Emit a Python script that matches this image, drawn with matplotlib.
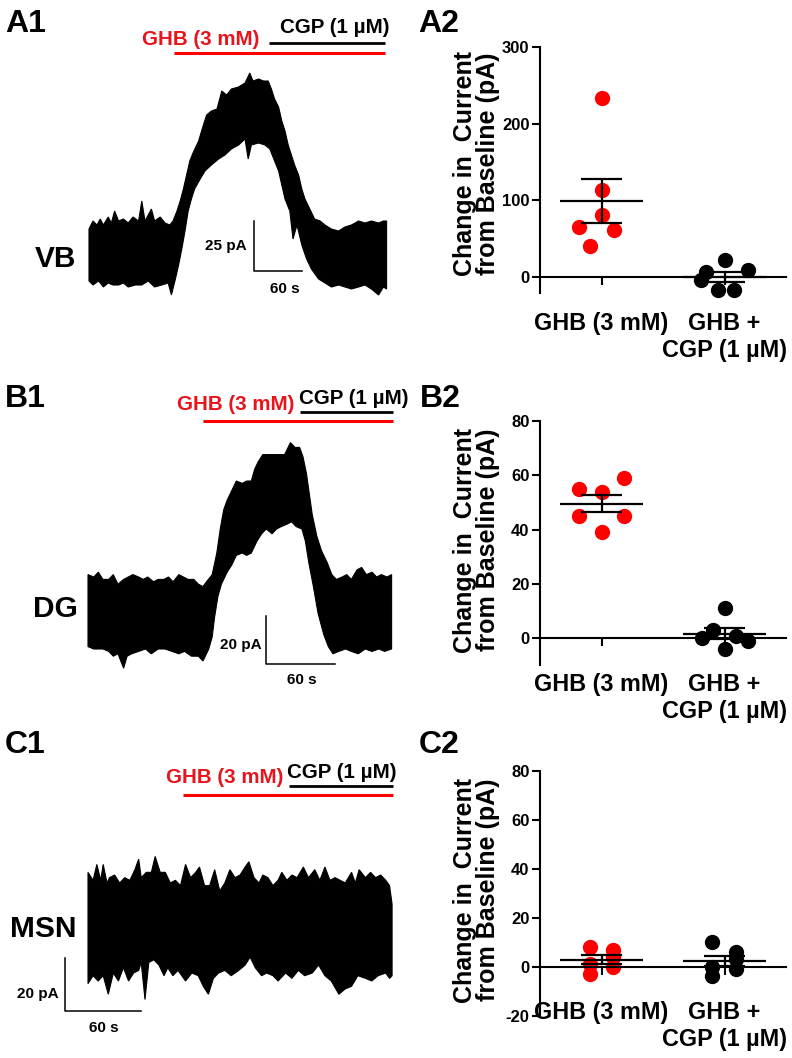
import numpy as np
import matplotlib
matplotlib.use('Agg')
import matplotlib.pyplot as plt

plt.rcParams['font.family'] = ['Liberation Sans', 'DejaVu Sans']
plt.rcParams['font.weight'] = 'bold'
plt.rcParams['axes.labelweight'] = 'bold'
plt.rcParams['axes.unicode_minus'] = False

a1_up_t = [0, 5, 10, 14, 18, 24, 28, 32, 37, 43, 49, 55, 62, 66, 70, 78, 82, 89, 95, 101,
           105, 110, 114, 118, 122, 126, 130, 137, 143, 147, 153, 160, 166, 172, 178, 187, 195, 201, 205, 212,
           218, 224, 228, 232, 237, 241, 245, 249, 253, 257, 262, 266, 270, 276, 282, 289, 295, 303, 312, 320,
           328, 337, 345, 353, 362, 368, 372]
a1_up_i = [14, 18, 16, 19, 16, 20, 17, 23, 18, 19, 17, 20, 18, 28, 18, 24, 18, 20, 17, 16,
           18, 23, 28, 34, 41, 48, 52, 58, 66, 71, 73, 74, 83, 81, 84, 85, 87, 92, 88, 89,
           88, 88, 84, 79, 75, 68, 63, 56, 51, 46, 41, 34, 29, 24, 19, 18, 16, 14, 13, 15,
           16, 18, 17, 18, 17, 18, 18]
a1_lo_t = [0, 5, 12, 18, 24, 30, 37, 43, 49, 58, 66, 74, 82, 91, 99, 103, 108, 112, 116, 120,
           124, 128, 132, 139, 145, 153, 162, 170, 178, 187, 195, 199, 203, 212, 220, 226, 232, 237, 241, 245,
           251, 255, 260, 266, 272, 278, 287, 295, 303, 312, 320, 328, 337, 345, 353, 362, 368, 372]
a1_lo_i = [-12, -14, -12, -15, -13, -14, -14, -13, -15, -14, -14, -12, -15, -14, -13, -19, -11, -4, 4, 13,
           23, 29, 34, 39, 43, 46, 49, 51, 54, 56, 59, 49, 56, 57, 56, 54, 48, 43, 36, 29,
           23, 9, 16, 6, -1, -6, -11, -13, -15, -14, -15, -16, -15, -14, -16, -19, -15, -16]

b1_up_t = [0, 5, 9, 13, 18, 22, 26, 31, 35, 39, 44, 48, 52, 57, 61, 66, 70, 74, 79, 83,
           87, 92, 96, 100, 103, 108, 112, 115, 118, 121, 125, 129, 134, 138, 142, 145, 148, 152, 157, 161,
           166, 171, 176, 180, 184, 187, 190, 195, 199, 203, 208, 212, 216, 221, 225, 229, 234, 238, 242, 247,
           251, 255, 260, 264]
b1_up_i = [16, 15, 17, 14, 14, 16, 12, 14, 15, 16, 15, 14, 15, 13, 14, 14, 15, 13, 16, 15,
           14, 14, 12, 11, 13, 16, 25, 35, 43, 47, 51, 55, 54, 55, 55, 60, 63, 66, 66, 66,
           66, 66, 71, 69, 69, 65, 58, 41, 32, 26, 21, 16, 14, 15, 16, 14, 18, 19, 16, 17,
           15, 16, 15, 16]
b1_lo_t = [0, 5, 9, 13, 18, 22, 26, 31, 34, 38, 44, 50, 55, 61, 67, 73, 79, 84, 90, 96,
           100, 105, 108, 110, 113, 116, 121, 125, 129, 134, 138, 142, 147, 151, 155, 160, 164, 168, 173, 177,
           181, 186, 189, 192, 196, 200, 205, 209, 213, 218, 224, 229, 235, 241, 247, 253, 258, 264]
b1_lo_i = [-14, -15, -15, -15, -16, -18, -17, -23, -18, -17, -16, -15, -17, -15, -15, -16, -17, -16, -18, -18,
           -20, -15, -10, -2, 7, 12, 17, 20, 24, 25, 24, 25, 30, 33, 35, 33, 35, 36, 37, 38,
           36, 35, 30, 21, 11, 0, -9, -14, -17, -16, -15, -16, -17, -15, -16, -15, -16, -15]

c1_up_t = [0, 4, 7, 10, 12, 15, 17, 21, 25, 29, 33, 37, 40, 42, 46, 50, 53, 57, 61, 65,
           69, 73, 77, 81, 85, 88, 92, 96, 100, 104, 108, 112, 116, 120, 124, 127, 131, 135, 138, 142,
           146, 150, 153, 157, 161, 165, 170, 174, 179, 183, 187, 191, 195, 199, 203, 208, 211, 214, 219, 223,
           227, 231, 235, 238, 240]
c1_up_i = [21, 18, 24, 18, 24, 17, 19, 20, 17, 19, 18, 22, 26, 19, 21, 21, 27, 21, 21, 17,
           18, 16, 24, 19, 21, 23, 16, 16, 22, 14, 17, 22, 19, 20, 23, 25, 19, 17, 20, 19,
           16, 18, 21, 18, 20, 19, 23, 19, 22, 18, 23, 18, 19, 18, 17, 21, 17, 22, 19, 21,
           19, 20, 18, 16, 9]
c1_lo_t = [0, 4, 8, 12, 16, 20, 24, 28, 32, 36, 40, 42, 45, 48, 52, 56, 60, 63, 67, 71,
           77, 82, 87, 91, 95, 99, 103, 108, 113, 119, 124, 128, 132, 137, 141, 146, 150, 156, 161, 166,
           171, 177, 182, 187, 192, 198, 203, 208, 213, 219, 224, 229, 235, 238, 240]
c1_lo_i = [-21, -18, -20, -18, -25, -17, -20, -15, -20, -17, -16, -13, -27, -13, -12, -14, -18, -15, -18, -16,
           -20, -17, -18, -22, -25, -19, -17, -16, -18, -16, -14, -11, -15, -18, -17, -18, -20, -17, -19, -16,
           -18, -17, -14, -18, -20, -25, -23, -22, -18, -19, -20, -18, -17, -19, -18]

# drug application windows (s)
a1_ghb, a1_cgp = (106, 370), (225, 370)
b1_ghb, b1_cgp = (100, 265), (184, 265)
c1_ghb, c1_cgp = (75, 241), (159, 241)
scale_s = 60
a1_scale_pa, b1_scale_pa, c1_scale_pa = 25, 20, 20

# ---- scatter panels: change in current (pA) ----
groups = ['GHB (3 mM)', 'GHB +\nCGP (1 µM)']
a2_ghb = [233, 113, 81, 66, 61, 41]
a2_cgp = [23, 7, 10, -4, -16, -16]
b2_ghb = [59, 55, 54, 45, 45, 39]
b2_cgp = [11, 3, 0, 1, -1, -4]
c2_ghb = [8, 1, -3, 7, 4, 0]
c2_cgp = [10, 0, -4, 6, 3, -1]
# horizontal scatter offsets of the dots
a2_ghb_dx = [0, 0, 0, -0.18, 0.1, -0.09]
a2_cgp_dx = [0, -0.15, 0.19, -0.19, -0.05, 0.08]
b2_ghb_dx = [0.18, -0.18, 0, -0.18, 0.18, 0]
b2_cgp_dx = [0, -0.09, -0.18, 0.09, 0.19, 0]
c2_ghb_dx = [-0.09, -0.09, -0.09, 0.09, 0.09, 0.09]
c2_cgp_dx = [-0.1, -0.1, -0.1, 0.09, 0.09, 0.09]

RED = '#ff0000'
TXT_RED = '#e8141b'
W, H = 792, 1058
fig = plt.figure(figsize=(W / 100, H / 100), dpi=100)


def box(left, top, right, bottom):
    return [left / W, 1 - bottom / H, (right - left) / W, (bottom - top) / H]


def ftext(x, y, s, **kw):
    fig.text(x / W, 1 - y / H, s, va='baseline', **kw)


def trace_panel(top, bottom, t0, sx, i0, sy, up_t, up_i, lo_t, lo_i,
                ghb, cgp, ghb_y, cgp_y, bar_corner, bar_pa):
    ax = fig.add_axes(box(0, top, 440, bottom))
    ax.set_xlim(-t0 / sx, (440 - t0) / sx)
    ax.set_ylim((i0 - bottom) / sy, (i0 - top) / sy)
    ax.axis('off')
    ax.fill(np.r_[up_t, lo_t[::-1]], np.r_[up_i, lo_i[::-1]], color='k', lw=0.8)
    ax.plot(ghb, [(i0 - ghb_y) / sy] * 2, color=RED, lw=2.2, solid_capstyle='butt')
    ax.plot(cgp, [(i0 - cgp_y) / sy] * 2, color='k', lw=2.0, solid_capstyle='butt')
    bx, by = bar_corner
    ax.plot([bx, bx, bx + scale_s], [by + bar_pa, by, by], color='k', lw=1.1)
    return ax


trace_panel(0, 330, 89, 0.8, 257, 2.0, a1_up_t, a1_up_i, a1_lo_t, a1_lo_i,
            a1_ghb, a1_cgp, 53, 43, (206, -7), a1_scale_pa)
trace_panel(360, 700, 88, 1.15, 613, 2.4, b1_up_t, b1_up_i, b1_lo_t, b1_lo_i,
            b1_ghb, b1_cgp, 421, 412, (155, -21.3), b1_scale_pa)
trace_panel(720, 1058, 88, 1.267, 928, 2.65, c1_up_t, c1_up_i, c1_lo_t, c1_lo_i,
            c1_ghb, c1_cgp, 795, 786, (-18, -31.3), c1_scale_pa)

# trace annotations
for x, y, s in [(5, 32, 'A1'), (418, 32, 'A2'), (5, 407, 'B1'), (420, 407, 'B2'),
                (5, 753, 'C1'), (419, 753, 'C2')]:
    ftext(x, y, s, fontsize=23)
for x, y, s in [(35, 267, 'VB'), (33, 617, 'DG'), (10, 937, 'MSN')]:
    ftext(x, y, s, fontsize=21.5)
for gx, gy, cx, cy in [(142, 45, 280, 33), (177, 410, 299, 404), (166, 783, 287, 778)]:
    ftext(gx, gy, 'GHB (3 mM)', fontsize=14.8, color=TXT_RED)
    ftext(cx, cy, 'CGP (1 µM)', fontsize=14.8)
for px, py, pa, sxp, syp in [(247, 250, '25 pA', 285, 293), (262, 649, '20 pA', 302, 684),
                             (59, 998, '20 pA', 104, 1032)]:
    ftext(px, py, pa, fontsize=11, ha='right')
    ftext(sxp, syp, '60 s', fontsize=11, ha='center')


def scatter_panel(top, bottom, ylim, yticks, ghb, cgp, ghb_dx, cgp_dx, label_y):
    ax = fig.add_axes(box(540, top, 786, bottom))
    for pos, vals, dx, col in [(1, ghb, ghb_dx, RED), (2, cgp, cgp_dx, 'k')]:
        vals = np.array(vals, dtype=float)
        ax.plot(pos + np.array(dx), vals, 'o', ms=10, color=col, mec=col, zorder=2, clip_on=False)
        m = vals.mean()
        s = vals.std(ddof=1) / np.sqrt(len(vals))
        ax.hlines(m, pos - 0.34, pos + 0.34, color='k', lw=1.6, zorder=3)
        ax.hlines([m - s, m + s], pos - 0.17, pos + 0.17, color='k', lw=1.6, zorder=3)
        ax.vlines(pos, m - s, m + s, color='k', lw=1.6, zorder=3)
    ax.set_xlim(0.5, 2.5)
    ax.set_ylim(*ylim)
    ax.set_yticks(yticks)
    ax.set_xticks([1, 2])
    ax.set_xticklabels(groups, linespacing=0.95, fontweight='bold')
    for sp in ['top', 'right']:
        ax.spines[sp].set_visible(False)
    ax.spines['bottom'].set_position(('data', 0))
    for sp in ['left', 'bottom']:
        ax.spines[sp].set_linewidth(1.5)
    ax.tick_params(axis='y', width=1.5, length=6, labelsize=12, pad=1.5)
    ax.tick_params(axis='x', width=1.5, length=6, labelsize=16.8, pad=19)
    ax.set_ylabel('Change in  Current\nfrom Baseline (pA)', fontsize=18,
                  fontweight='bold', linespacing=0.95)
    ax.yaxis.set_label_coords(-0.163, label_y)
    ax.patch.set_alpha(0)
    return ax


scatter_panel(46.7, 293.4, (-21, 300), [0, 100, 200, 300], a2_ghb, a2_cgp, a2_ghb_dx, a2_cgp_dx, 0.527)
scatter_panel(421, 665.5, (-10, 80), [0, 20, 40, 60, 80], b2_ghb, b2_cgp, b2_ghb_dx, b2_cgp_dx, 0.513)
scatter_panel(771, 1015.6, (-20, 80), [-20, 0, 20, 40, 60, 80], c2_ghb, c2_cgp, c2_ghb_dx, c2_cgp_dx, 0.513)

fig.savefig('out.png', dpi=100)
